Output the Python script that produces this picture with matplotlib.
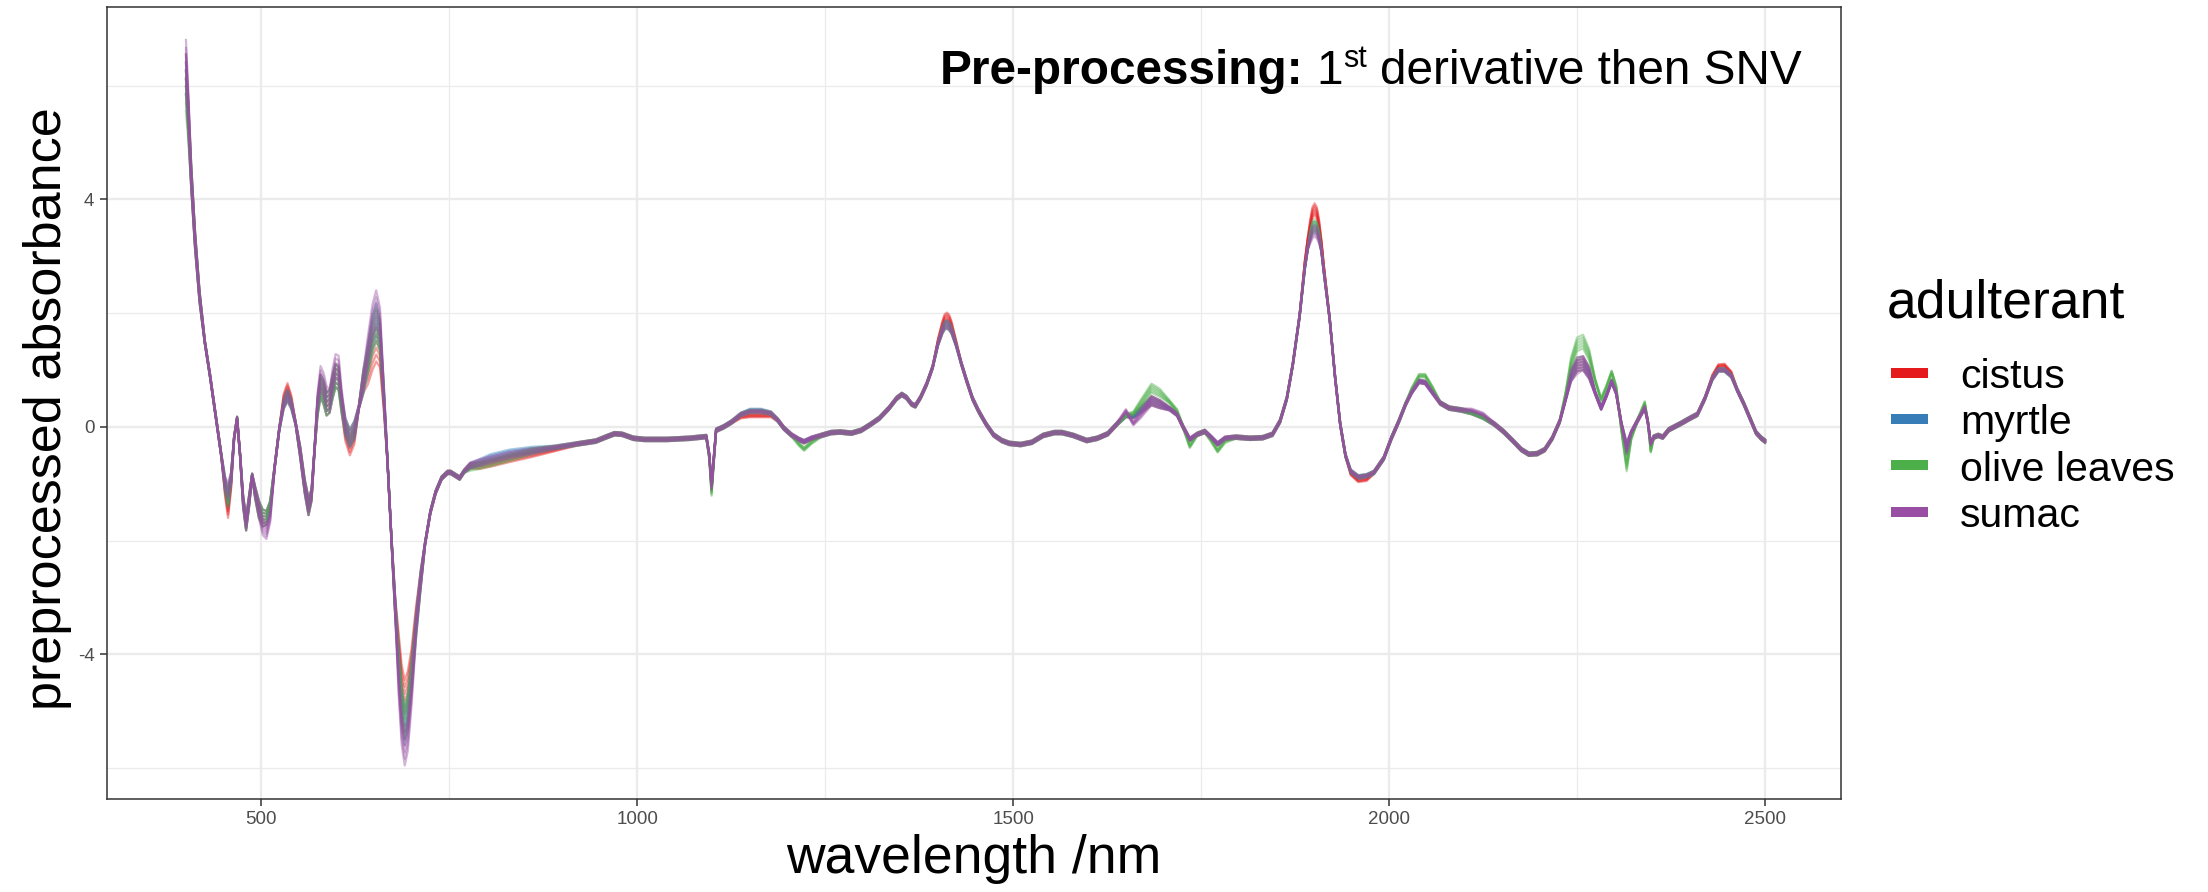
import numpy as np
import matplotlib
matplotlib.use("Agg")
import matplotlib.pyplot as plt
from matplotlib.lines import Line2D
from matplotlib.ticker import FixedLocator

plt.rcParams['font.family'] = ['Liberation Sans', 'DejaVu Sans']
plt.rcParams['axes.unicode_minus'] = False

# ---------------------------------------------------------------- data
# wavelength grid (nm) and the central pre-processed spectrum, by region
wl_vis = [400, 403, 407, 412, 418, 425, 432, 440, 447, 452,
          456, 460, 464, 468, 472, 476, 480, 484, 488, 492,
          497, 502, 507, 512, 518, 524, 530, 535, 540, 546,
          552, 558, 563, 567, 571, 575, 579, 583, 587, 591,
          595, 599, 603, 607, 612, 618, 624, 630, 636, 642,
          648, 653, 658, 663, 668, 673, 678, 683, 687, 691,
          695, 700, 706, 712, 718, 725, 732, 740, 748, 752,
          758, 764, 770, 778, 790]
abs_vis = [6.2, 5.5, 4.4, 3.3, 2.3, 1.5, 0.9, 0.15, -0.5, -1.0,
           -1.25, -0.9, -0.2, 0.15, -0.5, -1.3, -1.7, -1.3, -0.85, -1.15,
           -1.45, -1.6, -1.6, -1.4, -0.7, -0.05, 0.4, 0.55, 0.4, 0.05,
           -0.45, -1.05, -1.4, -1.2, -0.4, 0.35, 0.72, 0.6, 0.4, 0.45,
           0.7, 0.9, 0.85, 0.4, 0.0, -0.2, -0.05, 0.35, 0.8, 1.2,
           1.6, 1.8, 1.6, 0.6, -0.6, -1.9, -3.1, -4.2, -4.9, -5.2,
           -5.0, -4.4, -3.5, -2.7, -2.05, -1.5, -1.15, -0.9, -0.8, -0.8,
           -0.85, -0.9, -0.78, -0.68, -0.63]

wl_swir1 = [805, 830, 860, 890, 920, 945, 960, 970, 980, 995,
            1010, 1040, 1070, 1092, 1096, 1099, 1102, 1105, 1115, 1125,
            1138, 1150, 1165, 1178, 1187, 1195, 1205, 1215, 1222, 1232,
            1245, 1258, 1270, 1285, 1298]
abs_swir1 = [-0.58, -0.5, -0.43, -0.36, -0.3, -0.25, -0.17, -0.12, -0.13, -0.2,
             -0.22, -0.22, -0.2, -0.17, -0.5, -1.05, -0.55, -0.06, 0.0, 0.08,
             0.22, 0.27, 0.27, 0.24, 0.12, -0.02, -0.14, -0.22, -0.26, -0.2,
             -0.15, -0.1, -0.09, -0.11, -0.06]

wl_swir2 = [1310, 1322, 1335, 1345, 1352, 1358, 1365, 1370, 1377, 1385,
            1393, 1400, 1406, 1409, 1412, 1415, 1418, 1424, 1431, 1438,
            1446, 1454, 1464, 1474, 1485, 1495, 1510, 1525, 1540, 1555,
            1565, 1580, 1598, 1612, 1626, 1638, 1650, 1660, 1670, 1684,
            1695, 1708, 1718, 1726, 1735, 1745, 1755, 1763, 1772, 1782,
            1796, 1815, 1832, 1845, 1855, 1864, 1872, 1881, 1888, 1892,
            1895, 1898, 1901, 1904, 1907, 1910, 1913, 1921, 1928, 1935,
            1942, 1949, 1959, 1970, 1980, 1993]
abs_swir2 = [0.04, 0.15, 0.33, 0.5, 0.57, 0.52, 0.4, 0.37, 0.52, 0.75,
             1.05, 1.45, 1.7, 1.78, 1.8, 1.77, 1.7, 1.45, 1.12, 0.82,
             0.5, 0.28, 0.05, -0.14, -0.24, -0.29, -0.31, -0.27, -0.15, -0.1,
             -0.1, -0.15, -0.24, -0.2, -0.12, 0.05, 0.2, 0.18, 0.3, 0.46,
             0.4, 0.32, 0.22, 0.0, -0.22, -0.13, -0.08, -0.18, -0.3, -0.2,
             -0.18, -0.2, -0.19, -0.13, 0.1, 0.5, 1.1, 1.95, 2.8, 3.15,
             3.35, 3.5, 3.55, 3.5, 3.35, 3.1, 2.75, 1.9, 0.9, 0.05,
             -0.5, -0.78, -0.88, -0.86, -0.8, -0.55]

wl_swir3 = [2003, 2013, 2022, 2030, 2040, 2048, 2058, 2068, 2080, 2095,
            2110, 2125, 2140, 2152, 2165, 2176, 2186, 2197, 2207, 2217,
            2227, 2235, 2242, 2250, 2258, 2266, 2274, 2282, 2289, 2296,
            2302, 2309, 2316, 2322, 2330, 2340, 2344, 2348, 2352, 2358,
            2364, 2372, 2388, 2400, 2410, 2420, 2430, 2438, 2446, 2455,
            2463, 2472, 2480, 2488, 2495, 2500]
abs_swir3 = [-0.2, 0.1, 0.4, 0.61, 0.8, 0.78, 0.6, 0.42, 0.33, 0.3,
             0.25, 0.17, 0.05, -0.08, -0.25, -0.4, -0.48, -0.47, -0.4, -0.2,
             0.1, 0.5, 0.9, 1.1, 1.12, 0.95, 0.6, 0.33, 0.55, 0.8,
             0.6, 0.05, -0.38, -0.1, 0.1, 0.34, 0.1, -0.3, -0.18, -0.15,
             -0.18, -0.05, 0.06, 0.15, 0.22, 0.5, 0.85, 1.0, 1.0, 0.9,
             0.65, 0.4, 0.15, -0.1, -0.2, -0.25]

# within-group half range of the replicate spectra (default elsewhere)
spread_default = 0.03
spread_at = {400: 0.35, 403: 0.3, 407: 0.2, 412: 0.15, 418: 0.1,
             452: 0.12, 456: 0.15, 460: 0.1, 476: 0.1, 480: 0.12, 484: 0.1,
             492: 0.1, 497: 0.15, 502: 0.15, 507: 0.12, 512: 0.1,
             530: 0.08, 535: 0.1, 540: 0.08, 552: 0.1, 558: 0.12, 563: 0.15,
             567: 0.1, 575: 0.15, 579: 0.2, 583: 0.2, 587: 0.2, 591: 0.2,
             595: 0.2, 599: 0.2, 603: 0.2, 607: 0.15, 612: 0.15, 618: 0.15,
             624: 0.15, 636: 0.2, 642: 0.25, 648: 0.3, 653: 0.3, 658: 0.25,
             663: 0.15, 678: 0.15, 683: 0.25, 687: 0.3, 691: 0.3, 695: 0.3,
             700: 0.25, 706: 0.2, 712: 0.15, 778: 0.05, 790: 0.06, 805: 0.06,
             830: 0.06, 860: 0.05, 1099: 0.06, 1406: 0.06, 1409: 0.07,
             1412: 0.07, 1415: 0.07, 1418: 0.06, 1670: 0.06, 1684: 0.08,
             1695: 0.07, 1895: 0.08, 1898: 0.1, 1901: 0.1, 1904: 0.1,
             1907: 0.08, 2242: 0.1, 2250: 0.12, 2258: 0.12, 2266: 0.1,
             2316: 0.1}

adulterants = ['cistus', 'myrtle', 'olive leaves', 'sumac']
colors = ['#E41A1C', '#377EB8', '#4DAF4A', '#984EA3']

# group-specific departures from the central spectrum
offset_cistus = {452: -0.1, 456: -0.2, 460: -0.1, 530: 0.1, 535: 0.12, 540: 0.08,
                 612: -0.1, 618: -0.15, 624: -0.1, 642: -0.2, 648: -0.3,
                 653: -0.35, 658: -0.3, 663: -0.15, 683: 0.3, 687: 0.4,
                 691: 0.45, 695: 0.4, 700: 0.25, 706: 0.15, 790: -0.05,
                 805: -0.06, 830: -0.06, 860: -0.05, 890: -0.04, 1138: -0.04,
                 1150: -0.07, 1165: -0.07, 1178: -0.04, 1400: 0.06, 1406: 0.1,
                 1409: 0.13, 1412: 0.14, 1415: 0.13, 1418: 0.1, 1424: 0.05,
                 1888: 0.1, 1892: 0.16, 1895: 0.2, 1898: 0.26, 1901: 0.28,
                 1904: 0.26, 1907: 0.2, 1910: 0.15, 1913: 0.1, 1949: -0.04,
                 1959: -0.06, 1970: -0.06, 2430: 0.04, 2438: 0.07, 2446: 0.08,
                 2455: 0.05}
offset_myrtle = {648: 0.05, 653: 0.08, 691: -0.1, 805: 0.04, 830: 0.04,
                 860: 0.03, 1150: 0.02, 1165: 0.02, 1901: -0.05}
offset_olive = {400: -0.3, 403: -0.15, 778: -0.04, 790: -0.05, 805: -0.05,
                830: -0.04, 1096: -0.05, 1099: -0.1, 1102: -0.05, 1215: -0.08,
                1222: -0.13, 1232: -0.07, 1660: 0.06, 1670: 0.12, 1684: 0.22,
                1695: 0.2, 1708: 0.12, 1718: 0.06, 1735: -0.12, 1763: -0.05,
                1772: -0.12, 1782: -0.05, 2030: 0.05, 2040: 0.1, 2048: 0.12,
                2058: 0.08, 2235: 0.1, 2242: 0.22, 2250: 0.35, 2258: 0.38,
                2266: 0.32, 2274: 0.22, 2282: 0.15, 2289: 0.15, 2296: 0.16,
                2302: 0.1, 2309: -0.1, 2316: -0.3, 2322: -0.1, 2340: 0.08,
                2348: -0.12}
offset_sumac = {400: 0.25, 403: 0.15, 456: 0.12, 502: -0.15, 507: -0.25,
                512: -0.18, 575: 0.1, 579: 0.15, 583: 0.15, 587: 0.12,
                595: 0.12, 599: 0.18, 603: 0.2, 607: 0.12, 642: 0.15,
                648: 0.25, 653: 0.3, 658: 0.25, 683: -0.3, 687: -0.4,
                691: -0.45, 695: -0.4, 700: -0.25, 1650: 0.08, 1660: -0.12,
                1670: -0.08, 1895: -0.05, 1898: -0.09, 1901: -0.1, 1904: -0.09,
                1907: -0.05, 2110: 0.04, 2125: 0.05, 2250: -0.05}
group_offsets = [offset_cistus, offset_myrtle, offset_olive, offset_sumac]

# position of each replicate inside its group's range
replicate_levels = [-1.0, -0.6, -0.2, 0.2, 0.6, 1.0]

x_ticks = [500, 1000, 1500, 2000, 2500]
y_ticks = [-4, 0, 4]

# ---------------------------------------------------------------- figure
W, H = 2208, 892
fig = plt.figure(figsize=(W / 100, H / 100), dpi=100)
L, R, T, B = 107, 1841, 7, 799
ax = fig.add_axes([L / W, 1 - B / H, (R - L) / W, (B - T) / H])

wl_list = wl_vis + wl_swir1 + wl_swir2 + wl_swir3
wavelength = np.array(wl_list, dtype=float)
centre = np.array(abs_vis + abs_swir1 + abs_swir2 + abs_swir3, dtype=float)
spread = np.array([spread_at.get(w, spread_default) for w in wl_list])

for name, col, offs in zip(adulterants, colors, group_offsets):
    group_mean = centre + np.array([offs.get(w, 0.0) for w in wl_list])
    for k in replicate_levels:
        ax.plot(wavelength, group_mean + k * spread, color=col, lw=1.6,
                alpha=0.42, solid_joinstyle='round')

ax.set_xlim(295, 2601)
ax.set_ylim(-6.54, 7.38)
ax.xaxis.set_major_locator(FixedLocator(x_ticks))
ax.xaxis.set_minor_locator(FixedLocator([750, 1250, 1750, 2250]))
ax.yaxis.set_major_locator(FixedLocator(y_ticks))
ax.yaxis.set_minor_locator(FixedLocator([-6, -2, 2, 6]))
ax.grid(which='major', color='#EBEBEB', lw=1.7)
ax.grid(which='minor', color='#EBEBEB', lw=0.9)
ax.set_axisbelow(True)
for sp in ax.spines.values():
    sp.set_color('#333333')
    sp.set_linewidth(1.1)
ax.tick_params(which='major', length=5, width=1.1, color='#333333',
               labelsize=13.5, labelcolor='#4D4D4D', pad=4)
ax.tick_params(which='minor', length=0)

ax.set_xlabel('wavelength /nm', fontsize=38.5)
ax.xaxis.set_label_coords(0.5, -(834 - B) / (B - T))
ax.set_ylabel('preprocessed absorbance', fontsize=37.5)
ax.yaxis.set_label_coords((72 - L) / (R - L), (B - 409) / (B - T))

# legend
fig.text(1887 / W, 1 - 317 / H, 'adulterant', fontsize=38.5, va='baseline',
         ha='left')
for i, (name, col) in enumerate(zip(adulterants, colors)):
    yc = 372.6 + 46.4 * i
    fig.add_artist(Line2D([1891 / W, 1928 / W], [1 - yc / H] * 2, lw=7.2,
                          color=col, solid_capstyle='butt',
                          transform=fig.transFigure))
    fig.text(1960 / W, 1 - (yc + 15.5) / H, name, fontsize=29.5,
             va='baseline', ha='left')

# annotation with bold lead and superscript ordinal
fig.canvas.draw()
rend = fig.canvas.get_renderer()
size_main = 34.4
em = size_main * 100 / 72
base_y = 1 - 84 / H
parts = [('Pre-processing:', dict(fontsize=size_main, fontweight='bold'), 0.0, 0.278),
         ('1', dict(fontsize=size_main), 0.0, 0.0),
         ('st', dict(fontsize=22), 0.36, 0.278),
         ('derivative then SNV', dict(fontsize=size_main), 0.0, 0.0)]
texts, widths = [], []
for s, kw, rise, gap in parts:
    t = fig.text(0, base_y + rise * em / H, s, va='baseline', ha='left', **kw)
    texts.append(t)
    widths.append(t.get_window_extent(rend).width)
total = sum(widths) + sum(p[3] * em for p in parts)
x = 1802 - total
for t, wdt, p in zip(texts, widths, parts):
    t.set_x(x / W)
    x += wdt + p[3] * em

fig.savefig('out.png', dpi=100)
